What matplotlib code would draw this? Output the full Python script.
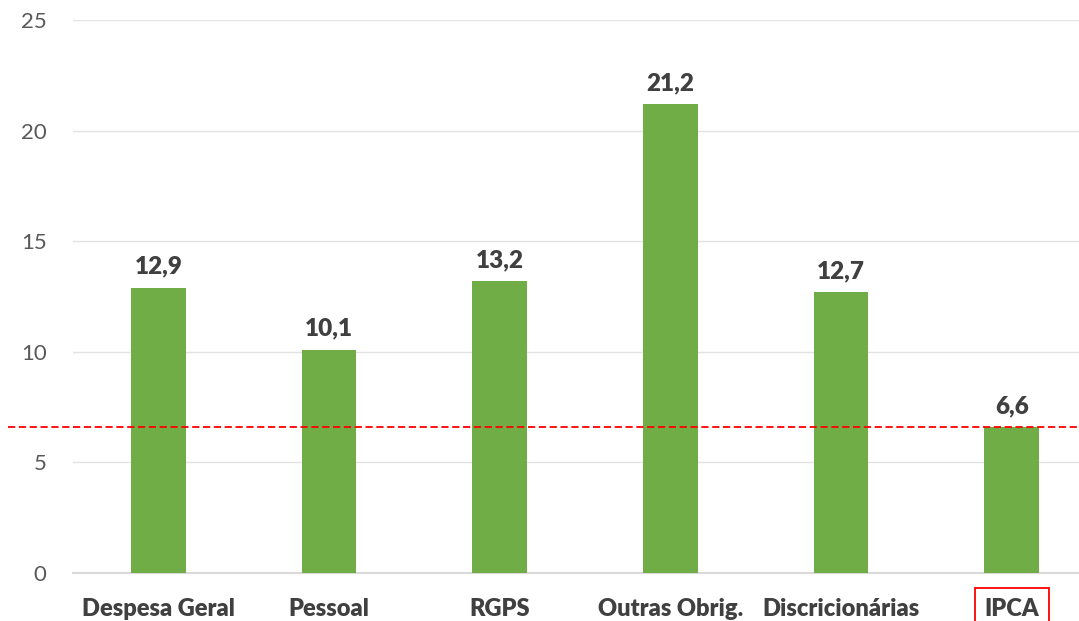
import matplotlib.pyplot as plt
from matplotlib.transforms import blended_transform_factory

categories = ["Despesa Geral", "Pessoal", "RGPS", "Outras Obrig.", "Discricionárias", "IPCA"]
values = [12.9, 10.1, 13.2, 21.2, 12.7, 6.6]
labels = ["12,9", "10,1", "13,2", "21,2", "12,7", "6,6"]
ipca_line = 6.6

plt.rcParams["font.family"] = ["Lato", "DejaVu Sans"]

fig = plt.figure(figsize=(10.79, 6.21), dpi=100)
ax = fig.add_axes([73 / 1079, (621 - 573) / 621, (1097 - 73) / 1079, 553 / 621])

x = range(len(categories))
ax.bar(x, values, width=0.32, color="#70AD47", zorder=3)
for xi, v, lab in zip(x, values, labels):
    ax.text(xi, v + 0.45, lab, ha="center", va="bottom", fontsize=17.5,
            fontweight="heavy", color="#404040", zorder=4)

tr = blended_transform_factory(ax.transAxes, ax.transData)
ax.plot([-0.063, 1.0], [ipca_line, ipca_line], color="#FF0000", linestyle="--",
        linewidth=1.3, dashes=(4, 2), transform=tr, clip_on=False, zorder=5)

ax.set_xlim(-0.5, len(categories) - 0.5)
ax.set_ylim(0, 25)
ax.set_yticks([0, 5, 10, 15, 20, 25])
ax.set_xticks(list(x))
ax.set_xticklabels(categories, fontsize=17, fontweight="heavy", color="#404040")
ax.tick_params(axis="y", labelsize=16, labelcolor="#595959", length=0, pad=19)
ax.tick_params(axis="x", length=0, pad=18)

ax.grid(axis="y", color="#E3E3E3", linewidth=1, zorder=0)
for s in ["top", "right", "left"]:
    ax.spines[s].set_visible(False)
ax.spines["bottom"].set_color("#D9D9D9")
ax.spines["bottom"].set_linewidth(1.5)

ipca_lbl = ax.get_xticklabels()[-1]
ipca_lbl.set_bbox(dict(facecolor="none", edgecolor="#FF0000", linewidth=1.3, pad=7))

fig.savefig("out.png", dpi=100)
